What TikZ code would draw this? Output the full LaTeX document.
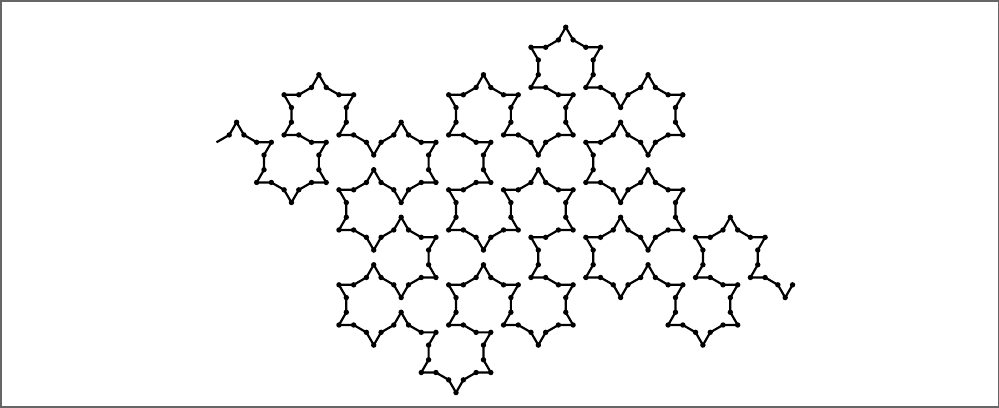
\documentclass[tikz,border=0pt]{standalone}
\usepackage{tikz}

% turtle state: index of the last vertex and current heading
\newcommand{\curidx}{0}
\newcommand{\heading}{30}
\newcommand{\seglen}{14.7}

% one unit step of the turtle from p<curidx> in direction #1
\newcommand{\fwd}[1]{%
  \pgfmathtruncatemacro{\nextidx}{\curidx+1}%
  \path (p\curidx) ++(#1:\seglen) coordinate (p\nextidx);%
  \global\let\curidx\nextidx}

\begin{document}
\begin{tikzpicture}[
    x=0.5pt, y=0.5pt,
    frame/.style={draw=gray!80!black, line width=1},
    curve/.style={draw=black, line width=1.1, line join=round},
    vertex/.style={fill=black}
]
\useasboundingbox (0,0) rectangle (999,-407);
\path[frame] (0.5,-0.5) rectangle (998.5,-406.5);

% start of the curve
\coordinate (p0) at (216.5,-142.3);
\fwd{30}
% each sign bends a pair of corners the same way
\foreach \s in {-1,1,1, -1,-1,1, -1,-1,1, 1,-1,-1, 1,1,-1, 1,1,-1,
                -1,1,1, -1,1,1, -1,-1,1, -1,-1,1, 1,-1,-1, 1,-1,-1,
                1,1,-1, -1,1,1, -1,1,1, -1,-1,1} {
  \pgfmathsetmacro{\hd}{\heading}
  \foreach \off in {-30,90,60,30,150,120} {
    \pgfmathsetmacro{\ang}{\hd+(\off)*(\s)}
    \fwd{\ang}
  }
  \pgfmathsetmacro{\newhd}{mod(\hd+120*(\s)+360,360)}
  \global\let\heading\newhd
}

\draw[curve] (p0) \foreach \i in {1,...,288} { -- (p\i) };
\foreach \i in {1,...,288}
  \path[vertex] (p\i) circle[radius=2.7];
\end{tikzpicture}
\end{document}
